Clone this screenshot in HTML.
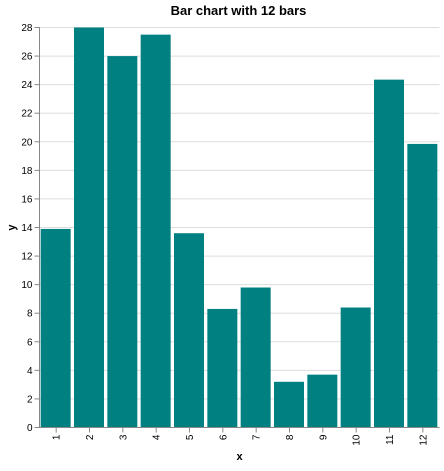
<!DOCTYPE html>
<html><head><style>body{margin:0;background:#fff}svg text{font-family:"Liberation Sans","DejaVu Sans",sans-serif}</style></head>
<body>
<svg id="c" width="444" height="466"></svg>
<script>
const categories=["1","2","3","4","5","6","7","8","9","10","11","12"];
const values=[13.9,28,26,27.5,13.6,8.3,9.8,3.2,3.7,8.4,24.35,19.85];
const yTicks=[0,2,4,6,8,10,12,14,16,18,20,22,24,26,28];
const L=39.5,R=439.5,T=27.5,B=427.5,yMax=28;
const NS="http://www.w3.org/2000/svg";
const svg=document.getElementById('c');
function y(v){return B-(v/yMax)*(B-T);}
const band=(R-L)/categories.length;
function x(i){return L+i*band;}
function mk(t,a,p){const e=document.createElementNS(NS,t);for(const k in a)e.setAttribute(k,a[k]);(p||svg).appendChild(e);return e;}
const grid=mk('g',{});


yTicks.forEach(v=>{const l=mk('line',{x1:L,x2:R,y1:y(v),y2:y(v),stroke:'#ddd'},grid);});
const bars=mk('g',{});


values.forEach((v,i)=>{const r=mk('rect',{x:x(i)+band*0.05-0.5,y:y(v),width:band*0.9,height:B-y(v),fill:'#008080'},bars);

});
const ya=mk('g',{});


mk('line',{x1:L,x2:L,y1:T,y2:B,stroke:'#888'},ya);
yTicks.forEach(v=>{mk('line',{x1:L-5,x2:L,y1:y(v),y2:y(v),stroke:'#888'},ya);
const t=mk('text',{x:L-7,y:y(v)+3.5,'text-anchor':'end','font-size':10,fill:'#000'},ya);t.textContent=v;});
const xa=mk('g',{});


mk('line',{x1:L,x2:R,y1:B,y2:B,stroke:'#888'},xa);
categories.forEach((c,i)=>{const cx=x(i)+band/2;mk('line',{x1:cx,x2:cx,y1:B,y2:B+5,stroke:'#888'},xa);
const t=mk('text',{x:0,y:0,'text-anchor':'end','font-size':10,transform:`translate(${cx+3.5},${B+7}) rotate(270)`},xa);t.textContent=c;});
const xt=mk('text',{x:(L+R)/2,y:460,'text-anchor':'middle','font-size':11,'font-weight':'bold'});xt.textContent='x';


const yt=mk('text',{x:0,y:0,'text-anchor':'middle','font-size':11,'font-weight':'bold',transform:`translate(15,${(T+B)/2}) rotate(-90)`});yt.textContent='y';


const ti=mk('text',{x:(L+R)/2-1,y:15,'text-anchor':'middle','font-size':13,'font-weight':'bold'});ti.textContent='Bar chart with 12 bars';


</script>
</body></html>
